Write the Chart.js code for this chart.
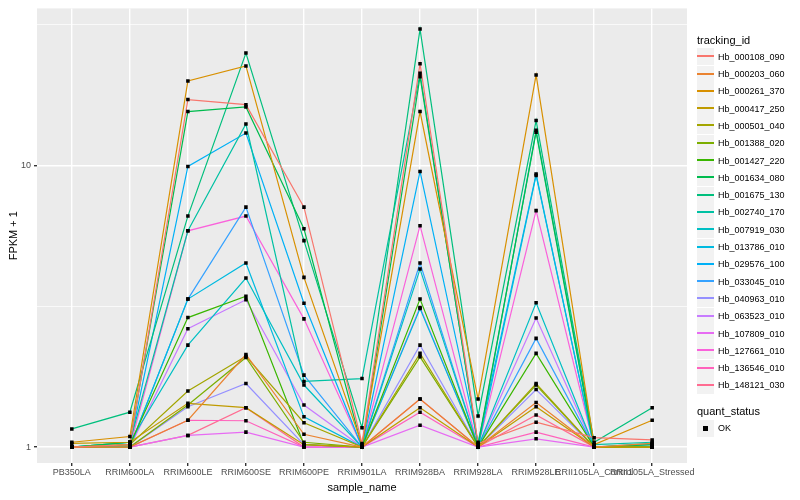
<!DOCTYPE html>
<html>
<head>
<meta charset="utf-8">
<script src="https://cdn.jsdelivr.net/npm/chart.js@4.4.1/dist/chart.umd.min.js"></script>
<style>
  body { margin: 0; background: #fff; }
  #wrap { position: relative; width: 800px; height: 500px; font-family: "Liberation Sans", Arial, sans-serif; }
  #legend { position: absolute; left: 0; top: 0; width: 800px; height: 500px; pointer-events: none; }
  .ttl { position: absolute; left: 697px; font-size: 11px; line-height: 13px; color: #000; }
  .key { position: absolute; left: 697px; width: 17px; height: 17px; background: #F2F2F2; }
  .key .ln { position: absolute; left: 0; top: 7px; width: 17px; height: 0; border-top: 2px solid; }
  .key .pt { position: absolute; left: 6px; top: 6px; width: 5px; height: 5px; background: #000; }
  .lbl { position: absolute; left: 718px; font-size: 9px; line-height: 12px; color: #000; }
</style>
</head>
<body>
<div id="wrap">
  <canvas id="chart" width="800" height="500"></canvas>
  <div id="legend"></div>
</div>
<script>
// sample names on the x axis
const categories = ['PB350LA', 'RRIM600LA', 'RRIM600LE', 'RRIM600SE', 'RRIM600PE', 'RRIM901LA',
  'RRIM928BA', 'RRIM928LA', 'RRIM928LE', 'RRII105LA_Control', 'RRII105LA_Stressed'];

const trackingIds = ['Hb_000108_090', 'Hb_000203_060', 'Hb_000261_370', 'Hb_000417_250', 'Hb_000501_040',
  'Hb_001388_020', 'Hb_001427_220', 'Hb_001634_080', 'Hb_001675_130', 'Hb_002740_170',
  'Hb_007919_030', 'Hb_013786_010', 'Hb_029576_100', 'Hb_033045_010', 'Hb_040963_010',
  'Hb_063523_010', 'Hb_107809_010', 'Hb_127661_010', 'Hb_136546_010', 'Hb_148121_030'];

// FPKM + 1, one row per tracking id, one value per sample
const fpkmPlusOne = [
  [1, 1.02, 17.1, 16.4, 7.1, 1.03, 22.9, 1.03, 1.225, 1.08, 1.06],
  [1, 1, 1.245, 2.13, 1.11, 1, 1.48, 1, 1.44, 1, 1.03],
  [1.04, 1.09, 19.9, 22.5, 4.0, 1.02, 15.5, 1.48, 20.9, 1.02, 1.245],
  [1.03, 1.04, 1.43, 1.38, 1.02, 1, 1.38, 1, 1.39, 1, 1],
  [1, 1.02, 1.58, 2.10, 1.22, 1, 2.15, 1, 1.68, 1, 1],
  [1, 1, 1.41, 2.08, 1.04, 1, 2.09, 1, 1.66, 1, 1],
  [1, 1.02, 2.88, 3.43, 1.02, 1, 3.35, 1, 2.15, 1, 1],
  [1, 1.04, 15.5, 16.1, 5.95, 1, 20.6, 1.02, 13.1, 1, 1.02],
  [1.16, 1.33, 6.6, 25.0, 5.4, 1.17, 30.4, 1.29, 14.4, 1.04, 1.38],
  [1, 1.04, 5.85, 14.0, 1.71, 1.75, 21.2, 1, 13.3, 1.02, 1.04],
  [1, 1.04, 2.30, 3.98, 1.66, 1, 4.28, 1, 3.25, 1, 1.03],
  [1, 1, 3.35, 4.5, 1.28, 1, 3.1, 1, 9.2, 1, 1],
  [1, 1.02, 9.9, 13.0, 3.24, 1, 9.5, 1.04, 9.3, 1, 1.02],
  [1, 1, 3.35, 7.1, 1.80, 1, 4.5, 1, 2.43, 1, 1],
  [1, 1, 1.39, 1.68, 1.02, 1, 2.30, 1, 1.60, 1, 1],
  [1, 1, 2.63, 3.33, 1.41, 1, 3.13, 1, 2.87, 1, 1],
  [1, 1, 1.10, 1.13, 1, 1, 1.195, 1, 1.07, 1, 1],
  [1, 1, 5.85, 6.6, 2.85, 1, 6.1, 1, 6.9, 1, 1],
  [1, 1, 1.245, 1.24, 1, 1, 1.33, 1, 1.13, 1, 1],
  [1, 1, 1.10, 1.38, 1, 1, 1.48, 1, 1.30, 1, 1]
];

// y gridlines (major 1 and 10, minor in between) and which ones get a label
const yGrid = [1, 3.1623, 10, 31.623];
const yTickLabels = ['1', '', '10', ''];

// ggplot2 default hue palette for 20 groups
const colors = ['#F8766D', '#EA8331', '#D89000', '#C09B00', '#A3A500', '#7CAE00', '#39B600', '#00BB4E',
  '#00BF7D', '#00C1A3', '#00BFC4', '#00BAE0', '#00B0F6', '#35A2FF', '#9590FF', '#C77CFF',
  '#E76BF3', '#FA62DB', '#FF62BC', '#FF6C91'];

const FONT = '"Liberation Sans", Arial, sans-serif';

// grey panel behind the plot
const panelBg = {
  id: 'panelBg',
  beforeDraw(chart) {
    const { ctx, chartArea: a } = chart;
    ctx.save();
    ctx.fillStyle = '#EBEBEB';
    ctx.fillRect(a.left, a.top, a.right - a.left, a.bottom - a.top);
    ctx.restore();
  }
};

const datasets = [];
fpkmPlusOne.forEach((row, s) => {
  const pts = row.map((v, i) => ({ x: i, y: v }));
  datasets.push({
    label: trackingIds[s],
    data: pts,
    borderColor: colors[s],
    borderWidth: 1.2,
    pointRadius: 0,
    tension: 0,
    order: 1
  });
  // black square points on top of all lines
  datasets.push({
    label: trackingIds[s] + ' OK',
    data: pts,
    showLine: false,
    pointStyle: 'rect',
    pointRadius: 2.5,
    pointBackgroundColor: '#000',
    pointBorderWidth: 0,
    order: 0
  });
});

const isMajor = v => Math.abs(v - 1) < 1e-6 || Math.abs(v - 10) < 1e-6;

new Chart(document.getElementById('chart').getContext('2d'), {
  type: 'line',
  data: { datasets: datasets },
  plugins: [panelBg],
  options: {
    responsive: false,
    animation: false,
    layout: { padding: { left: 0, top: 5, right: 113, bottom: 0 } },
    plugins: { legend: { display: false }, tooltip: { enabled: false } },
    scales: {
      x: {
        type: 'linear',
        bounds: 'data',
        min: -0.6,
        max: 10.6,
        afterBuildTicks: s => { s.ticks = categories.map((c, i) => ({ value: i })); },
        afterFit: s => { s.height = 37; },
        ticks: {
          callback: v => categories[v],
          autoSkip: false, maxRotation: 0, minRotation: 0,
          color: '#4D4D4D', font: { size: 9, family: FONT }, padding: 1
        },
        grid: { color: '#FFFFFF', lineWidth: 1.4, tickColor: '#333333', tickLength: 3 },
        border: { display: false },
        title: { display: true, text: 'sample_name', color: '#000', font: { size: 11, family: FONT }, padding: { top: 0, bottom: 5 } }
      },
      y: {
        type: 'logarithmic',
        bounds: 'data',
        min: 0.878,
        max: 36,
        afterBuildTicks: s => { s.ticks = yGrid.map(v => ({ value: v })); },
        afterFit: s => { s.width = 37; },
        ticks: {
          callback: (v, i) => yTickLabels[i],
          color: '#4D4D4D', font: { size: 9, family: FONT }, padding: 3
        },
        grid: {
          color: '#FFFFFF',
          lineWidth: c => (c.tick && isMajor(c.tick.value)) ? 1.4 : 0.7,
          tickColor: c => (c.tick && isMajor(c.tick.value)) ? '#333333' : 'rgba(0,0,0,0)',
          tickLength: 3
        },
        border: { display: false },
        title: { display: true, text: 'FPKM + 1', color: '#000', font: { size: 11, family: FONT }, padding: { top: 7, bottom: 0 } }
      }
    }
  }
});

// legend drawn as html next to the panel
const legend = document.getElementById('legend');
function add(cls, top, html) {
  const d = document.createElement('div');
  d.className = cls;
  d.style.top = Math.round(top) + 'px';
  d.innerHTML = html;
  legend.appendChild(d);
  return d;
}
add('ttl', 34, 'tracking_id');
trackingIds.forEach((id, i) => {
  const c = 56.7 + 17.3 * i;
  add('key', c - 8.5, '<div class="ln" style="border-top-color:' + colors[i] + '"></div>');
  add('lbl', c - 6, id);
});
add('ttl', 405, 'quant_status');
add('key', 428 - 8.5, '<div class="pt"></div>');
add('lbl', 428 - 6, 'OK');
</script>
</body>
</html>
